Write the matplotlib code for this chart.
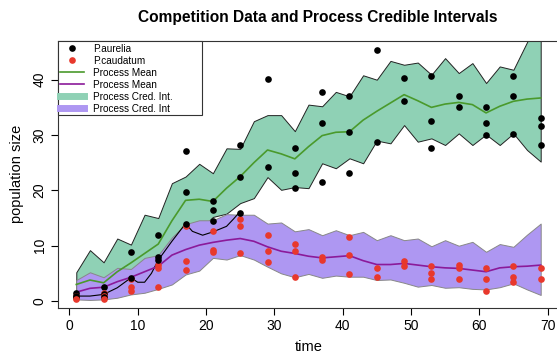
import numpy as np
import matplotlib
matplotlib.use('Agg')
import matplotlib.pyplot as plt
from matplotlib.lines import Line2D
from matplotlib.patches import Rectangle

plt.rcParams['font.family'] = ['Liberation Sans', 'DejaVu Sans']

# observation days and replicate counts (nan = no visible point)
obs_t = [1, 5, 9, 13, 17, 21, 25, 29, 33, 37, 41, 45, 49, 53, 57, 61, 65, 69]
aurelia = [
    [1.5, 1.0, 0.7], [2.5, 1.3, 0.8], [8.9, 4.2, np.nan], [11.9, 8.0, 7.4],
    [27.1, 19.7, 14.0], [18.0, 16.4, 14.4], [28.2, 22.5, 16.0], [40.2, 24.2, np.nan],
    [27.6, 23.1, 20.5], [37.7, 32.1, 21.5], [37.1, 30.6, 23.1], [45.3, 28.8, np.nan],
    [40.3, 36.2, np.nan], [40.6, 32.6, 27.6], [37.1, 35.1, np.nan], [35.1, 32.1, 30.0],
    [40.6, 37.1, 30.1], [33.1, 31.6, 28.2],
]
caudatum = [
    [1.0, 0.6, 0.3], [1.4, 0.9, 0.3], [4.0, 2.5, 1.9], [6.5, 6.0, 2.5],
    [13.6, 7.2, 5.7], [12.7, 9.2, 8.8], [14.8, 13.6, 8.7], [11.9, 9.0, 7.0],
    [10.4, 9.0, 4.4], [8.0, 7.4, np.nan], [11.5, 8.4, 4.9], [5.9, 4.4, np.nan],
    [7.2, 6.4, np.nan], [6.4, 5.0, 4.0], [6.5, 5.9, 4.0], [6.0, 4.0, 1.9],
    [6.4, 4.4, 3.4], [6.0, 4.0, np.nan],
]

# process estimates on odd days 1..69
proc_t = list(range(1, 70, 2))
aur_mean = [3.0, 3.8, 3.3, 5.3, 6.9, 8.6, 10.3, 14.5, 18.2, 18.4, 18.0, 20.4, 22.5, 25.0,
            27.3, 26.6, 25.7, 27.9, 29.9, 30.5, 30.6, 32.7, 34.3, 35.8, 37.3, 36.2, 35.0,
            35.6, 35.9, 35.5, 34.0, 35.2, 36.1, 36.5, 36.7]
aur_hi = [5.2, 9.2, 7.0, 11.3, 10.2, 15.6, 15.0, 21.3, 22.5, 24.8, 23.1, 27.6, 27.5, 32.5,
          33.6, 33.6, 30.7, 35.5, 35.2, 37.8, 37.0, 40.8, 40.0, 43.4, 42.7, 43.1, 40.9,
          43.9, 41.2, 43.0, 39.4, 42.4, 41.8, 46.8, 52.0]
aur_lo = [1.5, 1.8, 2.2, 3.0, 4.3, 5.5, 7.5, 9.5, 12.0, 12.8, 15.2, 15.8, 17.7, 18.6,
          22.4, 20.1, 20.6, 20.4, 24.9, 24.0, 25.8, 24.9, 29.0, 28.5, 31.8, 28.8, 29.4,
          28.2, 30.3, 28.2, 30.1, 28.2, 30.3, 27.3, 25.2]
cau_mean = [1.6, 2.3, 2.5, 3.5, 4.3, 5.3, 6.3, 8.3, 9.3, 10.1, 10.6, 11.0, 11.3, 10.8,
            9.8, 9.0, 8.6, 8.1, 7.8, 8.0, 8.2, 7.3, 6.6, 6.6, 6.8, 6.5, 6.2, 6.0, 5.9,
            5.6, 5.3, 6.0, 6.2, 6.3, 6.5]
cau_hi = [3.8, 5.2, 4.3, 6.0, 5.8, 7.8, 8.3, 11.5, 13.9, 14.6, 14.6, 15.7, 15.6, 15.6,
          14.0, 14.2, 12.6, 13.0, 11.9, 12.8, 11.9, 12.5, 11.0, 11.9, 11.0, 11.3, 9.9,
          11.0, 10.0, 10.7, 8.9, 10.3, 9.8, 12.0, 14.0]
cau_lo = [0.3, 0.2, 0.3, 0.6, 1.2, 1.5, 2.2, 3.0, 4.8, 5.5, 7.8, 7.5, 8.3, 7.5, 6.2,
          5.0, 4.3, 4.9, 4.2, 4.6, 4.4, 4.4, 3.8, 3.9, 3.3, 2.6, 2.9, 2.4, 2.5, 2.2,
          2.1, 2.5, 3.2, 2.1, 1.1]

# thin black trajectory (early days only)
traj_t = [1, 3, 5, 7, 9, 10, 11, 12, 13, 15, 17, 18, 19.5, 21, 22, 23, 24, 25]
traj_y = [0.9, 0.9, 1.2, 2.4, 4.2, 3.4, 3.4, 5.0, 7.4, 10.8, 14.0, 12.6, 11.9, 12.5,
          13.0, 13.5, 14.8, 16.2]

legend_labels = ['P.aurelia', 'P.caudatum', 'Process Mean', 'Process Mean',
                 'Process Cred. Int.', 'Process Cred. Int']

green_fill = '#8fd1b5'
purple_fill = '#ae97f2'
green_line = '#4a9a2c'
purple_line = '#8b1a9a'
red = '#e8382c'

fig = plt.figure(figsize=(5.57, 3.56), dpi=100)
ax = fig.add_axes([0.1036, 0.1357, 0.9005, 0.7492])

ax.fill_between(proc_t, aur_lo, aur_hi, facecolor=green_fill, edgecolor='#222222', linewidth=0.7)
ax.fill_between(proc_t, cau_lo, cau_hi, facecolor=purple_fill, edgecolor='#888888', linewidth=0.7)
ax.plot(traj_t, traj_y, color='black', lw=0.8)
ax.plot(proc_t, aur_mean, color=green_line, lw=1.2)
ax.plot(proc_t, cau_mean, color=purple_line, lw=1.2)

a = np.array(aurelia)
c = np.array(caudatum)
for k in range(3):
    ax.plot(obs_t, a[:, k], 'o', color='black', ms=4.8, mec='none')
    ax.plot(obs_t, c[:, k], 'o', color=red, ms=4.8, mec='none')

ax.set_xlim(-1.72, 71.72)
ax.set_ylim(-1.2, 47.0)
ax.set_xticks(range(0, 71, 10))
ax.set_yticks(range(0, 41, 10))
ax.tick_params(direction='out', length=5, width=0.8, labelsize=10, colors='black', pad=3)
for lab in ax.get_yticklabels():
    lab.set_rotation(90)
    lab.set_va('center')
for s in ax.spines.values():
    s.set_linewidth(0.8)
    s.set_color('#333333')

ax.set_xlabel('time', fontsize=10.5, labelpad=5)
ax.set_ylabel('population size', fontsize=10.5, labelpad=6)
fig.text(0.571, 0.952, 'Competition Data and Process Credible Intervals',
         ha='center', va='center', fontsize=11.2, fontweight='bold')

# legend: white box drawn by hand so it has the wide right margin of the original
ax.add_patch(Rectangle((0, 0.7225), 0.2877, 0.2775, transform=ax.transAxes,
                       facecolor='white', edgecolor='#333333', lw=0.8, zorder=5, clip_on=False))
handles = [
    Line2D([], [], ls='none', marker='o', color='black', ms=4.8, mec='none'),
    Line2D([], [], ls='none', marker='o', color=red, ms=4.8, mec='none'),
    Line2D([], [], color=green_line, lw=1.2),
    Line2D([], [], color=purple_line, lw=1.2),
    Line2D([], [], color=green_fill, lw=5),
    Line2D([], [], color=purple_fill, lw=5),
]
leg = ax.legend(handles, legend_labels, loc='upper left', bbox_to_anchor=(0.0046, 0.990),
                borderaxespad=0, borderpad=0, fontsize=7.2, frameon=False,
                handlelength=2.4, handletextpad=0.9, labelspacing=0.2)
leg.set_zorder(6)

fig.savefig('out.png', dpi=100)
